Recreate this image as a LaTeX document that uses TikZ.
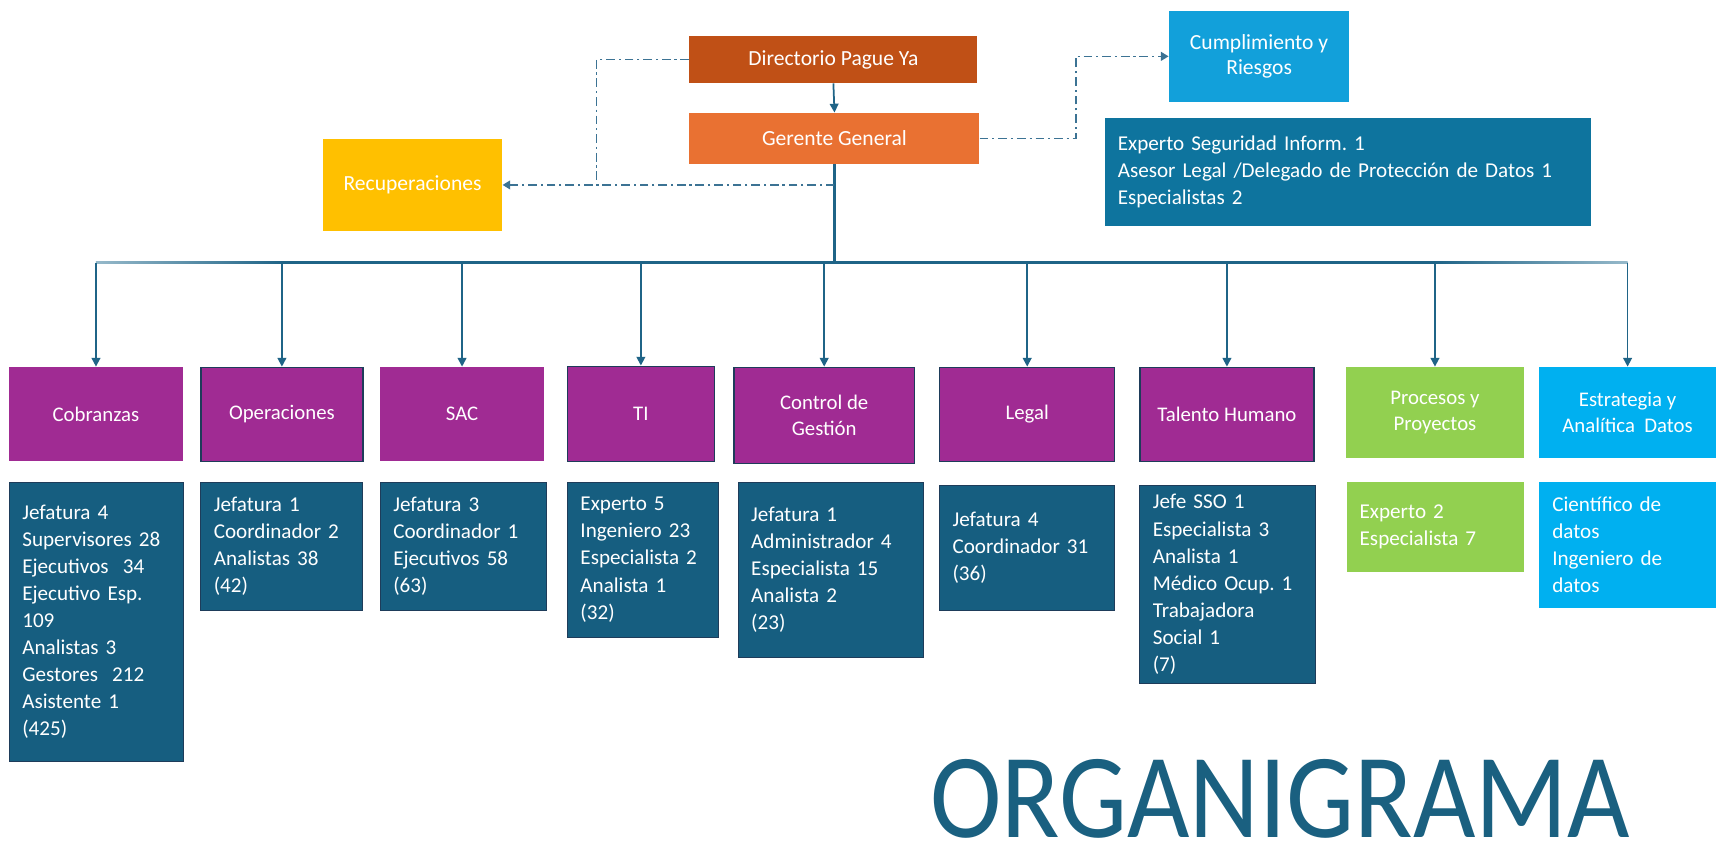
\documentclass[tikz,border=0pt]{standalone}
\usepackage{fontspec}
\setmainfont{Carlito}
\usetikzlibrary{arrows.meta,calc}
\definecolor{cDir}{RGB}{192,80,22}
\definecolor{cGer}{RGB}{233,113,50}
\definecolor{cRec}{RGB}{255,192,0}
\definecolor{cCum}{RGB}{18,160,218}
\definecolor{cExp}{RGB}{14,116,158}
\definecolor{cPur}{RGB}{160,43,147}
\definecolor{cGrn}{RGB}{146,208,80}
\definecolor{cLbl}{RGB}{0,176,240}
\definecolor{cDet}{RGB}{22,94,128}
\definecolor{cLine}{RGB}{31,100,135}
\definecolor{cLineL}{RGB}{150,185,202}
\definecolor{cDD}{RGB}{60,115,148}
\definecolor{cBord}{RGB}{30,60,90}
\definecolor{cTitle}{RGB}{26,96,128}
\frenchspacing
\begin{document}
\begin{tikzpicture}[x=1pt,y=-1pt,
  topbox/.style={rectangle,inner sep=0pt,text=white,align=center,
    font=\fontsize{19.7}{23.5}\selectfont},
  head/.style={rectangle,inner sep=0pt,anchor=north west,text=white,align=center,
    fill=cPur,font=\fontsize{19}{24}\selectfont},
  bord/.style={draw=cBord,line width=1.2pt},
  detail/.style={rectangle,anchor=north west,fill=cDet,text=white,align=left,
    inner xsep=12pt,inner ysep=0pt,draw=cBord,line width=0.8pt,
    font=\fontsize{19.3}{24.7}\selectfont},
  conn/.style={draw=cLine,line width=1.6pt,-{Triangle[width=8pt,length=8pt]}},
  dd/.style={draw=cDD,line width=1.5pt,dash pattern=on 8pt off 3.5pt on 2pt off 3.5pt},
]
\useasboundingbox (0,0) rectangle (1568,771);
\fill[white] (0,0) rectangle (1568,771);

% top level
\node[topbox,fill=cDir,minimum width=263pt,minimum height=43pt] (dir) at (761.5,54.5) {Directorio Pague Ya};
\node[topbox,fill=cGer,minimum width=265pt,minimum height=47pt] (ger) at (762.5,126.5) {Gerente General};
\node[topbox,fill=cRec,minimum width=164pt,minimum height=84pt] (rec) at (377,169) {Recuperaciones};
\node[topbox,fill=cCum,minimum width=165pt,minimum height=83pt] (cum) at (1150.5,51.5) {Cumplimiento y\\Riesgos};
\node[detail,fill=cExp,draw=none,text width=420pt,minimum height=99pt] (exp) at (1009,107)
  {Experto Seguridad Inform. 1\\Asesor Legal /Delegado de Protección de Datos 1\\Especialistas 2};

% second level
\node[head,minimum width=159pt,minimum height=86pt] (cob) at (8,335) {Cobranzas};
\node[head,bord,minimum width=148pt,minimum height=86pt] (ope) at (183,335) {Operaciones};
\node[head,minimum width=150pt,minimum height=86pt] (sac) at (347,335) {SAC};
\node[head,bord,minimum width=134pt,minimum height=87pt] (ti) at (518,334) {TI};
\node[head,bord,minimum width=165pt,minimum height=88pt] (cg) at (670,335) {Control de\\Gestión};
\node[head,bord,minimum width=160pt,minimum height=86pt] (leg) at (858,335) {Legal};
\node[head,bord,minimum width=159pt,minimum height=86pt] (th) at (1041,335) {Talento Humano};
\node[head,fill=cGrn,minimum width=162pt,minimum height=83pt] (pp) at (1230,335) {Procesos y\\Proyectos};
\node[head,fill=cLbl,minimum width=162pt,minimum height=83pt] (ead) at (1406,335) {Estrategia y\\Analítica\ \ Datos};

% details
\node[detail,text width=135pt,minimum height=255pt] (dcob) at (8,440)
  {Jefatura 4\\Supervisores 28\\Ejecutivos\ \ 34\\Ejecutivo Esp.\\109\\Analistas 3\\Gestores\ \ 212\\Asistente 1\\(425)};
\node[detail,text width=124pt,minimum height=117pt] (dope) at (183,440)
  {Jefatura 1\\Coordinador 2\\Analistas 38\\(42)};
\node[detail,text width=128pt,minimum height=117pt] (dsac) at (347,440)
  {Jefatura 3\\Coordinador 1\\Ejecutivos 58\\(63)};
\node[detail,text width=114pt,minimum height=142pt] (dti) at (518,440)
  {Experto 5\\Ingeniero 23\\Especialista 2\\Analista 1\\(32)};
\node[detail,text width=145pt,minimum height=160pt] (dcg) at (674,440)
  {Jefatura 1\\Administrador 4\\Especialista 15\\Analista 2\\(23)};
\node[detail,text width=136pt,minimum height=114pt] (dleg) at (858,443)
  {Jefatura 4\\Coordinador 31\\(36)};
\node[detail,text width=137pt,minimum height=181pt] (dth) at (1041,443)
  {Jefe SSO 1\\Especialista 3\\Analista 1\\Médico Ocup. 1\\Trabajadora\\Social 1\\(7)};
\node[detail,fill=cGrn,draw=none,text width=138pt,minimum height=82pt] (dpp) at (1230,440)
  {Experto 2\\Especialista 7};
\node[detail,fill=cLbl,draw=none,text width=138pt,minimum height=115pt] (dead) at (1406,440)
  {Científico de\\datos\\Ingeniero de\\datos};

% title
\node[anchor=base west,inner sep=0pt,text=cTitle,font=\fontsize{100}{100}\selectfont] (org) at (850,765) {\scalebox{0.985}[1.1]{ORGANIGRAMA}};

% connectors
\coordinate (bus) at (0,240);
\coordinate (j1) at (545,0);
\coordinate (j2) at (983,0);
\draw[conn] (dir.south) -- (ger.north);
\draw[draw=cLine,line width=2.8pt] (ger.south) -- (ger.south |- bus);
\draw[draw=cLine,line width=2.2pt] (ope.north |- bus) -- (pp.north |- bus);
\shade[left color=cLineL,right color=cLine] ($(cob.north |- bus)+(0,-1.1)$) rectangle ($(ope.north |- bus)+(0,1.1)$);
\shade[left color=cLine,right color=cLineL] ($(pp.north |- bus)+(0,-1.1)$) rectangle ($(ead.north |- bus)+(0,1.1)$);
\foreach \n in {cob,ope,sac,ti,cg,leg,th,pp,ead}{
  \draw[conn] (\n.north |- bus) -- (\n.north);
}
\draw[dd] (dir.west) -- (dir.west -| j1) -- (j1 |- rec.east);
\draw[dd,-{Triangle[width=8pt,length=7pt]}] (ger.south |- rec.east) -- (rec.east);
\draw[dd,-{Triangle[width=8pt,length=7pt]}] (ger.east) -- (ger.east -| j2) -- (j2 |- cum.west) -- (cum.west);
\end{tikzpicture}
\end{document}
